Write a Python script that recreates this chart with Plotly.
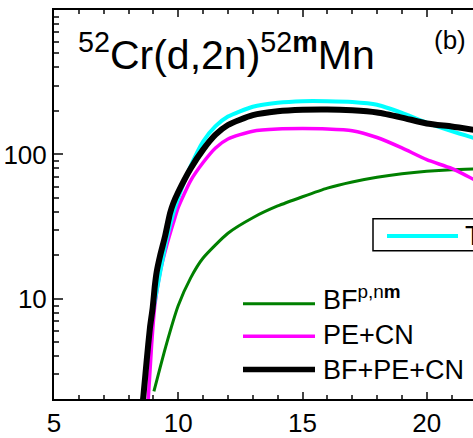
import plotly.graph_objects as go

# ---- data ----
total_x = [9.0, 9.27, 9.53, 9.8, 10.0, 10.5, 11.0, 11.5, 12.0, 13.0, 14.0, 15.0, 16.0, 17.0, 18.0, 19.0, 20.0, 21.0, 21.9]
total_y = [8.65, 15.3, 25.8, 39.2, 50.0, 83, 123, 157, 183, 214, 228, 234, 234, 231, 221, 194, 166, 145, 130]

bfpecn_x = [8.55, 8.6, 8.73, 8.86, 8.97, 9.06, 9.13, 9.27, 9.47, 9.67, 9.8, 10.0, 10.5, 11.0, 11.5, 12.0, 13.0, 14.0, 15.0, 16.0, 17.0, 18.0, 19.0, 20.0, 21.0, 21.9]
bfpecn_y = [1.8, 2.15, 3.75, 6.3, 8.65, 12.4, 15.3, 19.9, 27.2, 39.2, 46, 55, 80, 108, 137, 160, 187, 199, 204, 205, 202, 195, 180, 164, 156, 148]

pecn_x = [8.76, 8.8, 8.93, 9.06, 9.27, 9.53, 9.8, 10.0, 10.5, 11.0, 11.5, 12.0, 13.0, 14.0, 15.0, 16.0, 17.0, 18.0, 19.0, 20.0, 21.0, 21.9]
pecn_y = [1.8, 2.12, 4.87, 9.1, 15.3, 23.3, 33.5, 43, 66, 88, 111, 128, 145, 150, 151, 150, 146, 131, 111, 92, 80, 67]

bf_x = [9.02, 9.5, 10.0, 10.5, 11.0, 12.0, 13.0, 14.0, 15.0, 16.0, 17.0, 18.0, 19.0, 20.0, 21.0, 21.9]
bf_y = [2.29, 4.7, 9.0, 14.0, 19.2, 28.5, 36.5, 44, 51, 58.5, 64.5, 69.5, 73.5, 76.5, 78.5, 79.5]

x_ticks = [5, 10, 15, 20]
y_ticks = [10, 100]
y_minor = [m * d for d in (1, 10, 100) for m in range(2, 10)]

FONT = "Arial, Liberation Sans, sans-serif"

fig = go.Figure()
fig.add_trace(go.Scatter(x=bf_x, y=bf_y, mode="lines", line=dict(color="#008000", width=3, shape="spline", smoothing=0.6)))
fig.add_trace(go.Scatter(x=pecn_x, y=pecn_y, mode="lines", line=dict(color="#FF00FF", width=3.5, shape="spline", smoothing=0.6)))
fig.add_trace(go.Scatter(x=total_x, y=total_y, mode="lines", line=dict(color="#00FFFF", width=4, shape="spline", smoothing=0.6)))
fig.add_trace(go.Scatter(x=bfpecn_x, y=bfpecn_y, mode="lines", line=dict(color="#000000", width=6, shape="spline", smoothing=0.6)))

L, R, B, T = 54, 0, 32, 10
W, H = 473, 438
PW, PH = W - L - R, H - T - B

def px(xp):
    return (xp - L) / PW

def py(yp):
    return (H - B - yp) / PH

x_max = 5 + PW / 24.85

fig.update_layout(
    width=W, height=H,
    margin=dict(l=L, r=R, t=T, b=B, pad=0),
    paper_bgcolor="white", plot_bgcolor="white",
    showlegend=False,
    font=dict(family=FONT, color="black"),
    xaxis=dict(
        range=[5, x_max], tickvals=x_ticks, ticks="inside", ticklen=7, tickwidth=1.5,
        showline=True, linecolor="black", linewidth=2, mirror="allticks",
        showgrid=False, zeroline=False, tickfont=dict(size=26, family=FONT),
        minor=dict(dtick=1, tick0=5, ticks="inside", ticklen=4, tickwidth=1.5, showgrid=False),
    ),
    yaxis=dict(
        type="log", range=[0.3075, 3.0], tickvals=y_ticks, ticktext=["10", "100"],
        ticks="inside", ticklen=9, tickwidth=1.5,
        showline=True, linecolor="black", linewidth=2, mirror=False,
        showgrid=False, zeroline=False, tickfont=dict(size=26, family=FONT),
        minor=dict(tickvals=y_minor, ticks="inside", ticklen=5, tickwidth=1.5, showgrid=False),
    ),
    yaxis2=dict(
        type="log", range=[0.3075, 3.0], overlaying="y", side="right",
        tickvals=y_ticks, ticks="inside", ticklen=9, tickwidth=1.5,
        showticklabels=False, showline=False, showgrid=False, zeroline=False,
    ),
)

# title
fig.add_annotation(
    xref="paper", yref="paper", x=px(76), y=py(81), xanchor="left", yanchor="bottom",
    text="<sup>52</sup>Cr(d,2n)<sup>52<b>m</b></sup>Mn", showarrow=False,
    font=dict(size=41, family=FONT, color="black"),
)
fig.add_annotation(
    xref="paper", yref="paper", x=px(450), y=py(41), xanchor="center", yanchor="middle",
    text="(b)", showarrow=False, font=dict(size=26, family=FONT, color="black"),
)

# legend (unboxed part)
legend_items = [
    ("BF<sup>p,n<b>m</b></sup>", "#008000", 3, 309, 303),
    ("PE+CN", "#FF00FF", 3.5, 342, 341),
    ("BF+PE+CN", "#000000", 5.5, 376, 376),
]
for text, color, w, yl, yt in legend_items:
    fig.add_shape(type="line", xref="paper", yref="paper", x0=px(243), x1=px(315), y0=py(yl), y1=py(yl),
                  line=dict(color=color, width=w))
    fig.add_annotation(xref="paper", yref="paper", x=px(321), y=py(yt), xanchor="left", yanchor="middle",
                       text=text, showarrow=False, font=dict(size=27, family=FONT, color="black"))

# boxed legend for total
fig.add_shape(type="rect", xref="paper", yref="paper", x0=px(373), x1=px(520), y0=py(255), y1=py(222.5),
              line=dict(color="black", width=1.5), fillcolor="white", layer="above")
fig.add_shape(type="line", xref="paper", yref="paper", x0=px(387), x1=px(458), y0=py(240), y1=py(240),
              line=dict(color="#00FFFF", width=4))
fig.add_annotation(xref="paper", yref="paper", x=px(463), y=py(240), xanchor="left", yanchor="middle",
                   text="TALYS", showarrow=False, font=dict(size=27, family=FONT, color="black"))

fig.write_html("out.html")
